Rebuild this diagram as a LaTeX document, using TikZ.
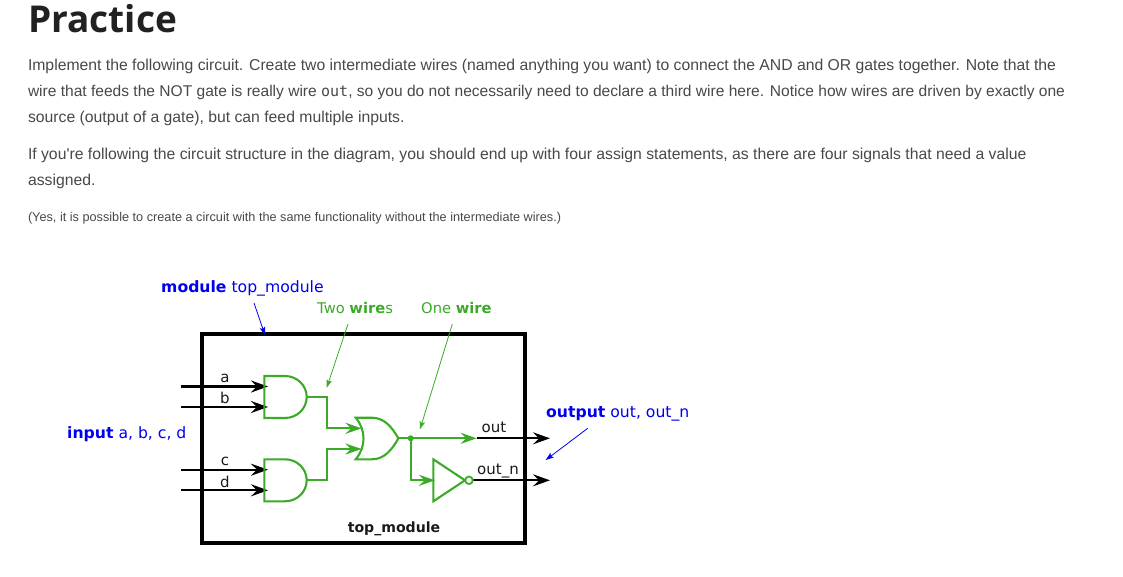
\documentclass[tikz,border=0pt]{standalone}
\usepackage{fontspec}
\newfontfamily\bodyf{Liberation Sans}
\newfontfamily\dv{DejaVu Sans}
\newfontfamily\titlef{Open Sans}
\newfontfamily\mono{DejaVu Sans Mono}
\usetikzlibrary{arrows.meta}
\definecolor{wiregreen}{HTML}{3AAA27}
\definecolor{lblue}{HTML}{0000F0}
\definecolor{bodytxt}{HTML}{484848}
\newcommand{\fs}[1]{\fontsize{#1}{#1}\selectfont}
\tikzset{
  x=1pt,y=-1pt,
  txt/.style={anchor=base west,inner sep=0pt,outer sep=0pt,text=bodytxt,font=\bodyf\fs{15.75}},
  small/.style={txt,font=\bodyf\fs{12.7}},
  lab/.style={inner sep=0pt,font=\dv\fs{15},text=black!90},
  tag/.style={anchor=base west,inner sep=0pt,font=\dv\fs{15.65}},
  pin/.style={line width=2.2pt,black,-{Stealth[length=17pt,width=12pt,inset=6pt]}},
  gw/.style={line width=2.2pt,wiregreen,line join=miter},
  garrow/.style={gw,-{Stealth[length=16pt,width=11pt,inset=5.5pt]}},
  gate/.style={line width=2.1pt,wiregreen},
  note/.style={line width=.8pt,-{Stealth[length=8pt,width=5.5pt,inset=1.5pt]}},
}
\begin{document}
\begin{tikzpicture}
\useasboundingbox (0,0) rectangle (1123,576);
% page text
\node[anchor=base west,inner sep=0,text=black!87,font=\titlef\bfseries\fs{37}] (title) at (28,32.5) {Practice};
\node[txt] (l1) at (28,70) {Implement the following circuit. Create two intermediate wires (named anything you want) to connect the AND and OR gates together. Note that the};
\node[txt,font=\bodyf\fs{15.56}] (l2) at (28,96) {wire that feeds the NOT gate is really wire {\mono\fs{15}out}, so you do not necessarily need to declare a third wire here. Notice how wires are driven by exactly one};
\node[txt] (l3) at (28,122) {source (output of a gate), but can feed multiple inputs.};
\node[txt] (l4) at (28,159) {If you're following the circuit structure in the diagram, you should end up with four assign statements, as there are four signals that need a value};
\node[txt] (l5) at (28,185) {assigned.};
\node[small] (l6) at (28,221.5) {(Yes, it is possible to create a circuit with the same functionality without the intermediate wires.)};
% module box
\node[draw=black,line width=4pt,minimum width=323pt,minimum height=209pt,inner sep=0,outer sep=0,anchor=center] (box) at (363.5,438.5) {};
% coordinates
\coordinate (ain) at (181,386.5); \coordinate (bin) at (181,407);
\coordinate (cin) at (181,469.7); \coordinate (din) at (181,490.3);
\coordinate (aend) at (268,386.5); \coordinate (bend) at (268,407);
\coordinate (cend) at (268,469.7); \coordinate (dend) at (268,490.3);
\coordinate (and1) at (306.7,397); \coordinate (and2) at (306.7,480.3);
\coordinate (or1in) at (361.5,428.3); \coordinate (or2in) at (361.5,449);
\coordinate (orout) at (398.3,438.3); \coordinate (junction) at (410.7,438.3);
\coordinate (greenend) at (476.7,438.3); \coordinate (outend) at (550,438.3);
\coordinate (notin) at (435,480.3); \coordinate (notout) at (473.2,480.3);
\coordinate (nend) at (550,480.3);
% input pins
\draw[pin] (ain) -- (aend);
\draw[pin] (bin) -- (bend);
\draw[pin] (cin) -- (cend);
\draw[pin] (din) -- (dend);
% output pins
\draw[pin] (greenend) -- (outend);
\draw[pin] (notout) -- (nend);
% gates
\draw[gate] (285,376) -- (264.3,376) -- (264.3,418) -- (285,418) .. controls (297,418) and (306.7,408.6) .. (306.7,397) .. controls (306.7,385.4) and (297,376) .. (285,376) -- cycle;
\draw[gate] (285,459.3) -- (264.3,459.3) -- (264.3,501.3) -- (285,501.3) .. controls (297,501.3) and (306.7,491.9) .. (306.7,480.3) .. controls (306.7,468.7) and (297,459.3) .. (285,459.3) -- cycle;
\draw[gate] (355.7,417.7) .. controls (361,424) and (363.5,431) .. (363.5,438.5) .. controls (363.5,446) and (361,453) .. (355.7,459.3)
  -- (372,459.3) .. controls (384,459.3) and (392,450) .. (398.3,438.3) .. controls (392,427) and (384,417.7) .. (372,417.7) -- cycle;
\draw[gate,line join=miter] (433.3,459.3) -- (433.3,501.3) -- (465,480.3) -- cycle;
\node[draw=wiregreen,line width=1.8pt,circle,minimum size=7.5pt,inner sep=0,fill=white] (bubble) at (469,480.3) {};
% green wires
\draw[garrow] (and1) -| (327,428.3) -- (or1in);
\draw[garrow] (and2) -| (327,449) -- (or2in);
\draw[garrow] (orout) -- (greenend);
\draw[garrow] (junction) |- (notin);
\fill[wiregreen] (junction) circle[radius=3pt];
% pin labels
\node[lab] (la) at (225,378) {a};
\node[lab] (lb) at (225,398) {b};
\node[lab] (lc) at (225,461) {c};
\node[lab] (ld) at (225,482) {d};
\node[lab,anchor=base] (lout) at (494,432.5) {out};
\node[lab,anchor=base] (loutn) at (498,474.5) {out\_n};
\node[lab,anchor=base,font=\dv\bfseries\fs{14.1}] (ltop) at (394,532) {top\_module};
% tags
\node[tag,text=lblue] (tm) at (161,292.5) {\textbf{module} top\_module};
\node[tag,text=lblue] (ti) at (67,438.5) {\textbf{input} a, b, c, d};
\node[tag,text=lblue] (to) at (546,417.5) {\textbf{output} out, out\_n};
\node[tag,text=wiregreen,font=\dv\fs{14.7}] (tw) at (317,313) {Two \textbf{wire}s};
\node[tag,text=wiregreen,font=\dv\fs{14.7}] (ow) at (421,313) {One \textbf{wire}};
% notes
\coordinate (n1a) at (254,303); \coordinate (n1b) at (265,335);
\coordinate (n2a) at (587.7,428.3); \coordinate (n2b) at (545.7,460);
\coordinate (n3a) at (348,324); \coordinate (n3b) at (326.7,387.7);
\coordinate (n4a) at (452.3,324); \coordinate (n4b) at (420,429.3);
\draw[note,lblue] (n1a) -- (n1b);
\draw[note,lblue] (n2a) -- (n2b);
\draw[note,wiregreen] (n3a) -- (n3b);
\draw[note,wiregreen] (n4a) -- (n4b);
\end{tikzpicture}
\end{document}
